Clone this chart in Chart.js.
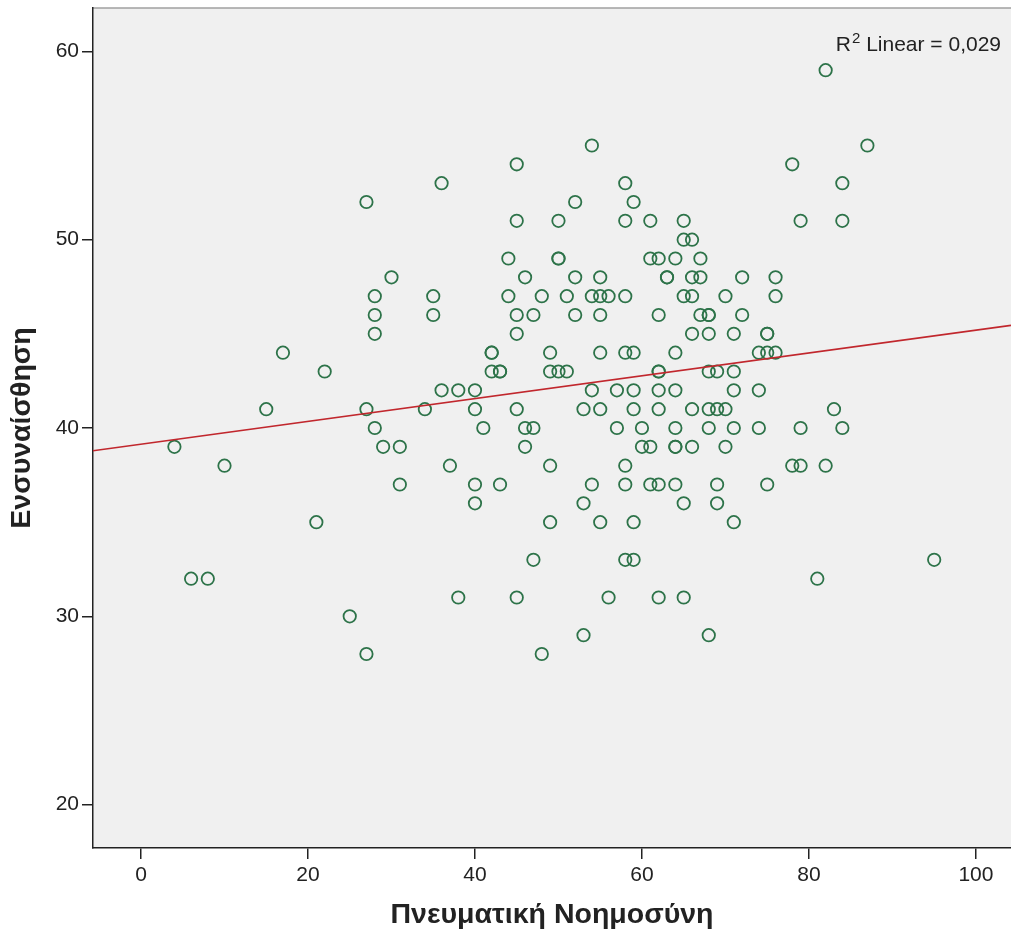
<!DOCTYPE html>
<html>
<head>
<meta charset="utf-8">
<title>Ενσυναίσθηση / Πνευματική Νοημοσύνη</title>
<script src="https://cdn.jsdelivr.net/npm/chart.js@4.4.1/dist/chart.umd.min.js"></script>
<style>
  html, body { margin: 0; padding: 0; background: #ffffff; }
  canvas { display: block; }
</style>
</head>
<body>
<canvas id="scatter" width="1011" height="939"></canvas>
<script>
// Scatter of empathy vs. spiritual intelligence, with a linear fit line (SPSS look).

const X_TITLE = "Πνευματική Νοημοσύνη";
const Y_TITLE = "Ενσυναίσθηση";
const R2_TEXT = "0,029";

const xTicks = [0, 20, 40, 60, 80, 100];
const yTicks = [20, 30, 40, 50, 60];
const xRange = [-5.75, 104.2];
const yRange = [17.7, 62.3];

// Empathy score of each row of points, and the intelligence scores found on that row.
const empathyRows = [59, 55, 54, 53, 52, 51, 50, 49, 48, 47, 46, 45, 44, 43, 42, 41,
                     40, 39, 38, 37, 36, 35, 33, 32, 31, 30, 29, 28];
const intelligenceByRow = [
  [82],
  [54, 87],
  [45, 78],
  [36, 58, 84],
  [27, 52, 59],
  [45, 50, 58, 61, 65, 79, 84],
  [65, 66],
  [44, 50, 50, 61, 62, 64, 67],
  [30, 46, 52, 55, 63, 63, 66, 67, 72, 76],
  [28, 35, 44, 48, 51, 54, 55, 56, 58, 65, 66, 70, 76],
  [28, 35, 45, 47, 52, 55, 62, 67, 68, 68, 72],
  [28, 45, 66, 68, 71, 75, 75],
  [17, 42, 42, 49, 55, 58, 59, 64, 74, 75, 76],
  [22, 42, 43, 43, 49, 50, 51, 62, 62, 68, 69, 71],
  [36, 38, 40, 54, 57, 59, 62, 64, 71, 74],
  [15, 27, 34, 40, 45, 53, 55, 59, 62, 66, 68, 69, 70, 83],
  [28, 41, 46, 47, 57, 60, 64, 68, 71, 74, 79, 84],
  [4, 29, 31, 46, 60, 61, 64, 64, 66, 70],
  [10, 37, 49, 58, 78, 79, 82],
  [31, 40, 43, 54, 58, 61, 62, 64, 69, 75],
  [40, 53, 65, 69],
  [21, 49, 55, 59, 71],
  [47, 58, 59, 95],
  [6, 8, 81],
  [38, 45, 56, 62, 65],
  [25],
  [53, 68],
  [27, 48]
];

const FONT = '"Liberation Sans", Arial, sans-serif';
const INK = "#222222";

const points = [];
empathyRows.forEach(function (e, i) {
  intelligenceByRow[i].forEach(function (x) { points.push({ x: x, y: e }); });
});

// least squares fit, drawn across the whole x range
function linearFit(pts) {
  const n = pts.length;
  let sx = 0, sy = 0, sxx = 0, sxy = 0;
  pts.forEach(function (p) { sx += p.x; sy += p.y; sxx += p.x * p.x; sxy += p.x * p.y; });
  const slope = (n * sxy - sx * sy) / (n * sxx - sx * sx);
  return { slope: slope, intercept: (sy - slope * sx) / n };
}
const fit = linearFit(points);
const fitLine = xRange.map(function (x) { return { x: x, y: fit.intercept + fit.slope * x }; });

const plotBackground = {
  id: "plotBackground",
  beforeDraw(chart) {
    const ctx = chart.ctx, a = chart.chartArea;
    ctx.save();
    ctx.fillStyle = "#ffffff";
    ctx.fillRect(0, 0, chart.width, chart.height);
    ctx.fillStyle = "#f0f0f0";
    ctx.fillRect(a.left, a.top, a.right - a.left, a.bottom - a.top);
    ctx.strokeStyle = "#a0a0a0";
    ctx.lineWidth = 1.5;
    ctx.beginPath();
    ctx.moveTo(a.left, a.top);
    ctx.lineTo(a.right, a.top);
    ctx.stroke();
    ctx.restore();
  }
};

const r2Label = {
  id: "r2Label",
  afterDatasetsDraw(chart) {
    const ctx = chart.ctx, a = chart.chartArea;
    const rest = " Linear = " + R2_TEXT;
    const baseline = a.top + 43;
    ctx.save();
    ctx.fillStyle = INK;
    ctx.textBaseline = "alphabetic";
    ctx.font = "21px " + FONT;
    const wR = ctx.measureText("R").width;
    const wRest = ctx.measureText(rest).width;
    ctx.font = "15px " + FONT;
    const wSup = ctx.measureText("2").width;
    let x = a.right - 11 - wR - wSup - wRest;
    ctx.font = "21px " + FONT;
    ctx.fillText("R", x, baseline);
    x += wR + 1;
    ctx.font = "15px " + FONT;
    ctx.fillText("2", x, baseline - 8);
    x += wSup;
    ctx.font = "21px " + FONT;
    ctx.fillText(rest, x, baseline);
    ctx.restore();
  }
};

function axisOptions(range, ticks, title, isX) {
  return {
    type: "linear",
    min: range[0],
    max: range[1],
    afterBuildTicks: function (scale) {
      scale.ticks = ticks.map(function (v) { return { value: v }; });
    },
    afterFit: function (scale) {
      // keep the plot area fixed, labels may hang over the edges
      scale.paddingTop = 0;
      scale.paddingBottom = 0;
      scale.paddingLeft = 0;
      scale.paddingRight = 0;
      if (isX) scale.height = 91;
      else scale.width = 93;
    },
    grid: { drawOnChartArea: false, drawTicks: true, tickLength: 11, color: INK, lineWidth: 1.5 },
    border: { display: true, color: INK, width: 1.5 },
    ticks: {
      color: INK,
      font: { family: FONT, size: 21 },
      padding: isX ? 4 : 3,
      maxRotation: 0,
      autoSkip: false,
      callback: function (v) { return String(v); }
    },
    title: {
      display: true,
      text: title,
      color: INK,
      font: { family: FONT, size: 28.5, weight: "bold" },
      padding: isX ? { top: 0, bottom: 7 } : { top: 5, bottom: 0 }
    }
  };
}

new Chart(document.getElementById("scatter"), {
  type: "scatter",
  data: {
    datasets: [
      {
        data: points,
        pointStyle: "circle",
        pointRadius: 6.2,
        pointHoverRadius: 6.2,
        borderWidth: 1.8,
        borderColor: "#2d7349",
        backgroundColor: "rgba(0,0,0,0)",
        order: 2
      },
      {
        type: "line",
        data: fitLine,
        borderColor: "#c1272d",
        borderWidth: 1.6,
        pointRadius: 0,
        fill: false,
        order: 1
      }
    ]
  },
  options: {
    responsive: false,
    devicePixelRatio: 1,
    animation: false,
    layout: { autoPadding: false, padding: { top: 8, right: 0, bottom: 0, left: 0 } },
    plugins: { legend: { display: false }, tooltip: { enabled: false } },
    scales: {
      x: axisOptions(xRange, xTicks, X_TITLE, true),
      y: axisOptions(yRange, yTicks, Y_TITLE, false)
    }
  },
  plugins: [plotBackground, r2Label]
});
</script>
</body>
</html>
